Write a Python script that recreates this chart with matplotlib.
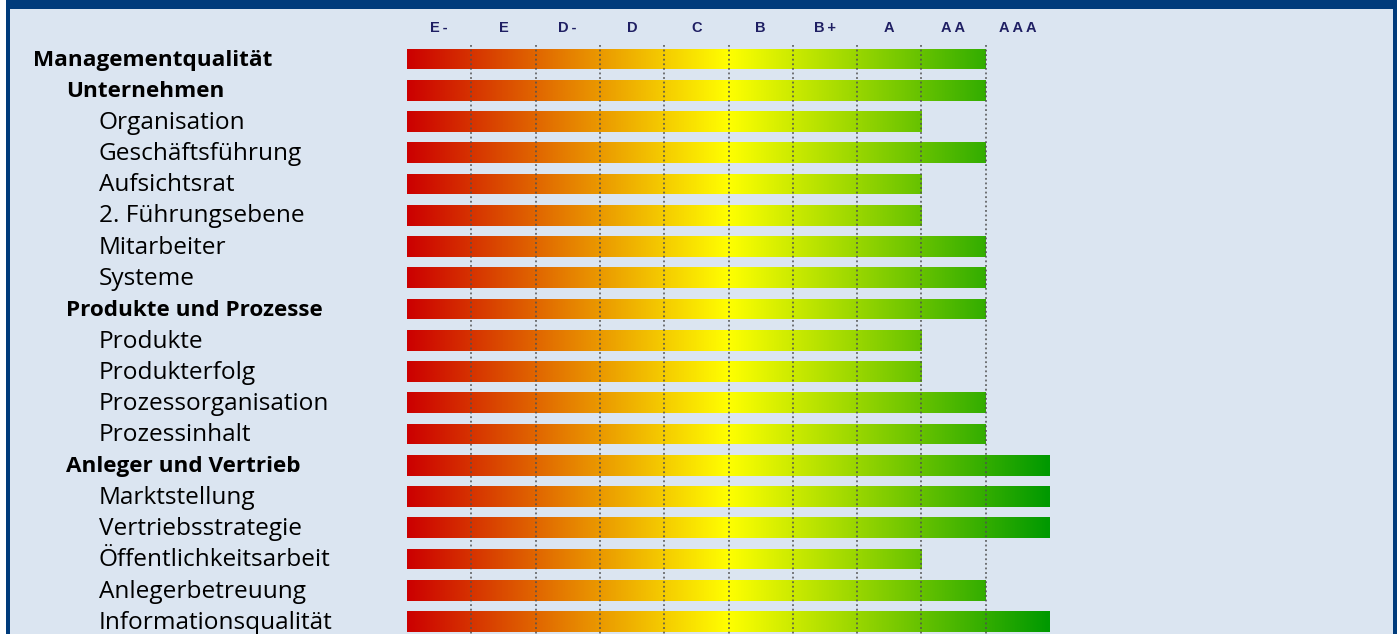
import numpy as np
import matplotlib
matplotlib.use("Agg")
import matplotlib.pyplot as plt
from matplotlib.colors import LinearSegmentedColormap
from matplotlib.patches import Rectangle

# Rating scale (lowest to highest)
grades = ["E-", "E", "D-", "D", "C", "B", "B+", "A", "AA", "AAA"]

# Criteria, indentation level and assigned rating
criteria = [
    "Managementqualität", "Unternehmen", "Organisation", "Geschäftsführung",
    "Aufsichtsrat", "2. Führungsebene", "Mitarbeiter", "Systeme",
    "Produkte und Prozesse", "Produkte", "Produkterfolg",
    "Prozessorganisation", "Prozessinhalt", "Anleger und Vertrieb",
    "Marktstellung", "Vertriebsstrategie", "Öffentlichkeitsarbeit",
    "Anlegerbetreuung", "Informationsqualität",
]
levels = [0, 1, 2, 2, 2, 2, 2, 2, 1, 2, 2, 2, 2, 1, 2, 2, 2, 2, 2]
ratings = ["AA", "AA", "A", "AA", "A", "A", "AA", "AA", "AA", "A", "A",
           "AA", "AA", "AAA", "AAA", "AAA", "A", "AA", "AAA"]

W, H = 1397, 634
BG = "#dbe5f1"
FRAME = "#003b7b"
NAVY = "#1f1f63"

fig = plt.figure(figsize=(W / 100, H / 100), dpi=100)
fig.patch.set_facecolor("white")

# Frame: white strip, blue border and blue header band
frame_ax = fig.add_axes([0, 0, 1, 1])
frame_ax.set_xlim(0, W)
frame_ax.set_ylim(H, 0)
frame_ax.axis("off")
frame_ax.add_patch(Rectangle((6, 0), W - 6, H, color=FRAME, lw=0))
frame_ax.add_patch(Rectangle((10, 9), 1393 - 10, H, color=BG, lw=0))

# Chart axes: one grade unit = 64.3 px, bars start at x=407 px,
# row pitch 31.25 px with the first row centred at y=59 px
unit = 64.3
x0 = 407
pitch = 31.25
y0 = 59
ax = fig.add_axes([0, 0, 1, 1], zorder=2)
ax.axis("off")
ax.patch.set_alpha(0)

cmap = LinearSegmentedColormap.from_list("rating", ["#cc0000", "#ffff00", "#009900"])
gradient = np.linspace(0, 1, 512).reshape(1, -1)

rows = np.arange(len(criteria))
values = [grades.index(r) + 1 for r in ratings]
bar_h = 0.67
bars = ax.barh(rows, values, height=bar_h, left=0, color="none", lw=0)
for bar, r in zip(bars, rows):
    im = ax.imshow(gradient, cmap=cmap, aspect="auto", interpolation="bilinear",
                   extent=(0, len(grades), r + bar_h / 2, r - bar_h / 2), zorder=2)
    im.set_clip_path(bar)

ax.set_xlim(-x0 / unit, (W - x0) / unit)
ax.set_ylim((H - y0) / pitch, -y0 / pitch)

# Dotted grade boundaries
top = -(y0 - 45) / pitch
bottom = (H - y0) / pitch
ax.vlines(np.arange(1, len(grades)), top, bottom, colors="#505050",
          linestyles=(0, (1.2, 1.8)), lw=1.1, zorder=3)

# Grade header
for i, g in enumerate(grades):
    ax.text(i + 0.5, -(y0 - 28) / pitch, "\u2009".join(g), ha="center", va="center",
            fontsize=10.5, fontweight="bold", color=NAVY,
            family=["Liberation Sans", "DejaVu Sans"])

# Criteria labels
indent = [33, 66, 99]
for r, (name, lvl) in enumerate(zip(criteria, levels)):
    bold = lvl < 2
    ax.text((indent[lvl] - x0) / unit, r + 0.04, name, ha="left", va="center",
            fontsize=16.2 if bold else 17.6, family="Open Sans",
            fontweight="bold" if bold else "normal", color="black")

fig.savefig("out.png", dpi=100, facecolor=fig.get_facecolor())
